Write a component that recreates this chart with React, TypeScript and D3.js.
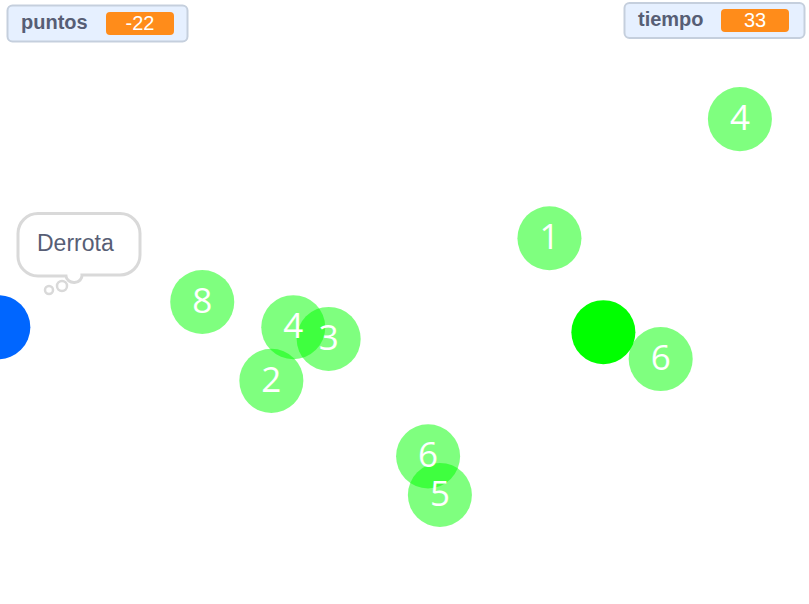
import React from "react";
import * as d3 from "d3";

const W = 809;
const H = 604;

// Stage coordinates (Scratch units: x -240..240, y -180..180)
const targetLabels = ["4", "1", "8", "4", "3", "2", "6", "5", "6"];
const targetX = [199, 86, -120, -66, -45, -79, 14, 21, 152];
const targetY = [109, 38, 0, -15, -22, -47, -92, -115, -34];

const playerX = [118];
const playerY = [-18];
const enemyX = [-241];
const enemyY = [-15];

const monitorNames = ["puntos", "tiempo"];
const monitorValues = ["-22", "33"];

const bubbleText = "Derrota";

const xScale = d3.scaleLinear().domain([-240, 240]).range([0, W]);
const yScale = d3.scaleLinear().domain([180, -180]).range([0, H]);
const R = xScale(19) - xScale(0);

export default function App() {
  const targets = targetLabels.map((l, i) => ({ l, x: xScale(targetX[i]), y: yScale(targetY[i]) }));
  const font = "'Liberation Sans', Helvetica, Arial, sans-serif";
  const monitors = [
    { name: monitorNames[0], value: monitorValues[0], x: 7.5, y: 5.5, w: 180, h: 36, vx: 106, vy: 12 },
    { name: monitorNames[1], value: monitorValues[1], x: 624.5, y: 3, w: 180, h: 35, vx: 721, vy: 9 },
  ];
  return (
    <svg width={W} height={H} style={{ position: "absolute", left: 0, top: 0, background: "#fff" }}>
      {/* enemy */}
      {enemyX.map((x, i) => (
        <circle key={"e" + i} cx={xScale(x)} cy={yScale(enemyY[i])} r={R} fill="#0066ff" />
      ))}
      {/* targets */}
      {targets.map((t, i) => (
        <circle key={"c" + i} cx={t.x} cy={t.y} r={R} fill="#00ff00" opacity={0.5} />
      ))}
      {targets.map((t, i) => (
        <text
          key={"t" + i}
          x={t.x}
          y={t.y + 11}
          textAnchor="middle"
          fill="#ffffff"
          fontFamily="'Open Sans', 'Noto Sans', sans-serif"
          fontSize={35}
        >
          {t.l}
        </text>
      ))}
      {/* player */}
      {playerX.map((x, i) => (
        <circle key={"p" + i} cx={xScale(x)} cy={yScale(playerY[i])} r={R} fill="#00ff00" />
      ))}
      {/* think bubble */}
      <g fill="#ffffff" stroke="#d9d9d9" strokeWidth={3}>
        <path d="M38,213.5 H120 A20,20 0 0 1 140,233.5 V255 A20,20 0 0 1 120,275 H82 A8,7 0 0 1 66,276 H38 A20,20 0 0 1 18,255 V233.5 A20,20 0 0 1 38,213.5 Z" />
        <circle cx={62} cy={286} r={5} strokeWidth={2.5} />
        <circle cx={49} cy={290} r={4} strokeWidth={2.5} />
      </g>
      <text x={37} y={251} fill="#575e75" fontFamily={font} fontSize={23}>
        {bubbleText}
      </text>
      {/* monitors */}
      {monitors.map((m, i) => (
        <g key={"m" + i}>
          <rect x={m.x} y={m.y} width={m.w} height={m.h} rx={5} fill="#e6f0ff" stroke="#c5cfdd" strokeWidth={2} />
          <text x={m.x + 13.5} y={m.vy + 17} fill="#575e75" fontFamily={font} fontWeight="bold" fontSize={20}>
            {m.name}
          </text>
          <rect x={m.vx} y={m.vy} width={68} height={23} rx={4} fill="#ff8c1a" />
          <text x={m.vx + 34} y={m.vy + 18} textAnchor="middle" fill="#ffffff" fontFamily={font} fontSize={20}>
            {m.value}
          </text>
        </g>
      ))}
    </svg>
  );
}
